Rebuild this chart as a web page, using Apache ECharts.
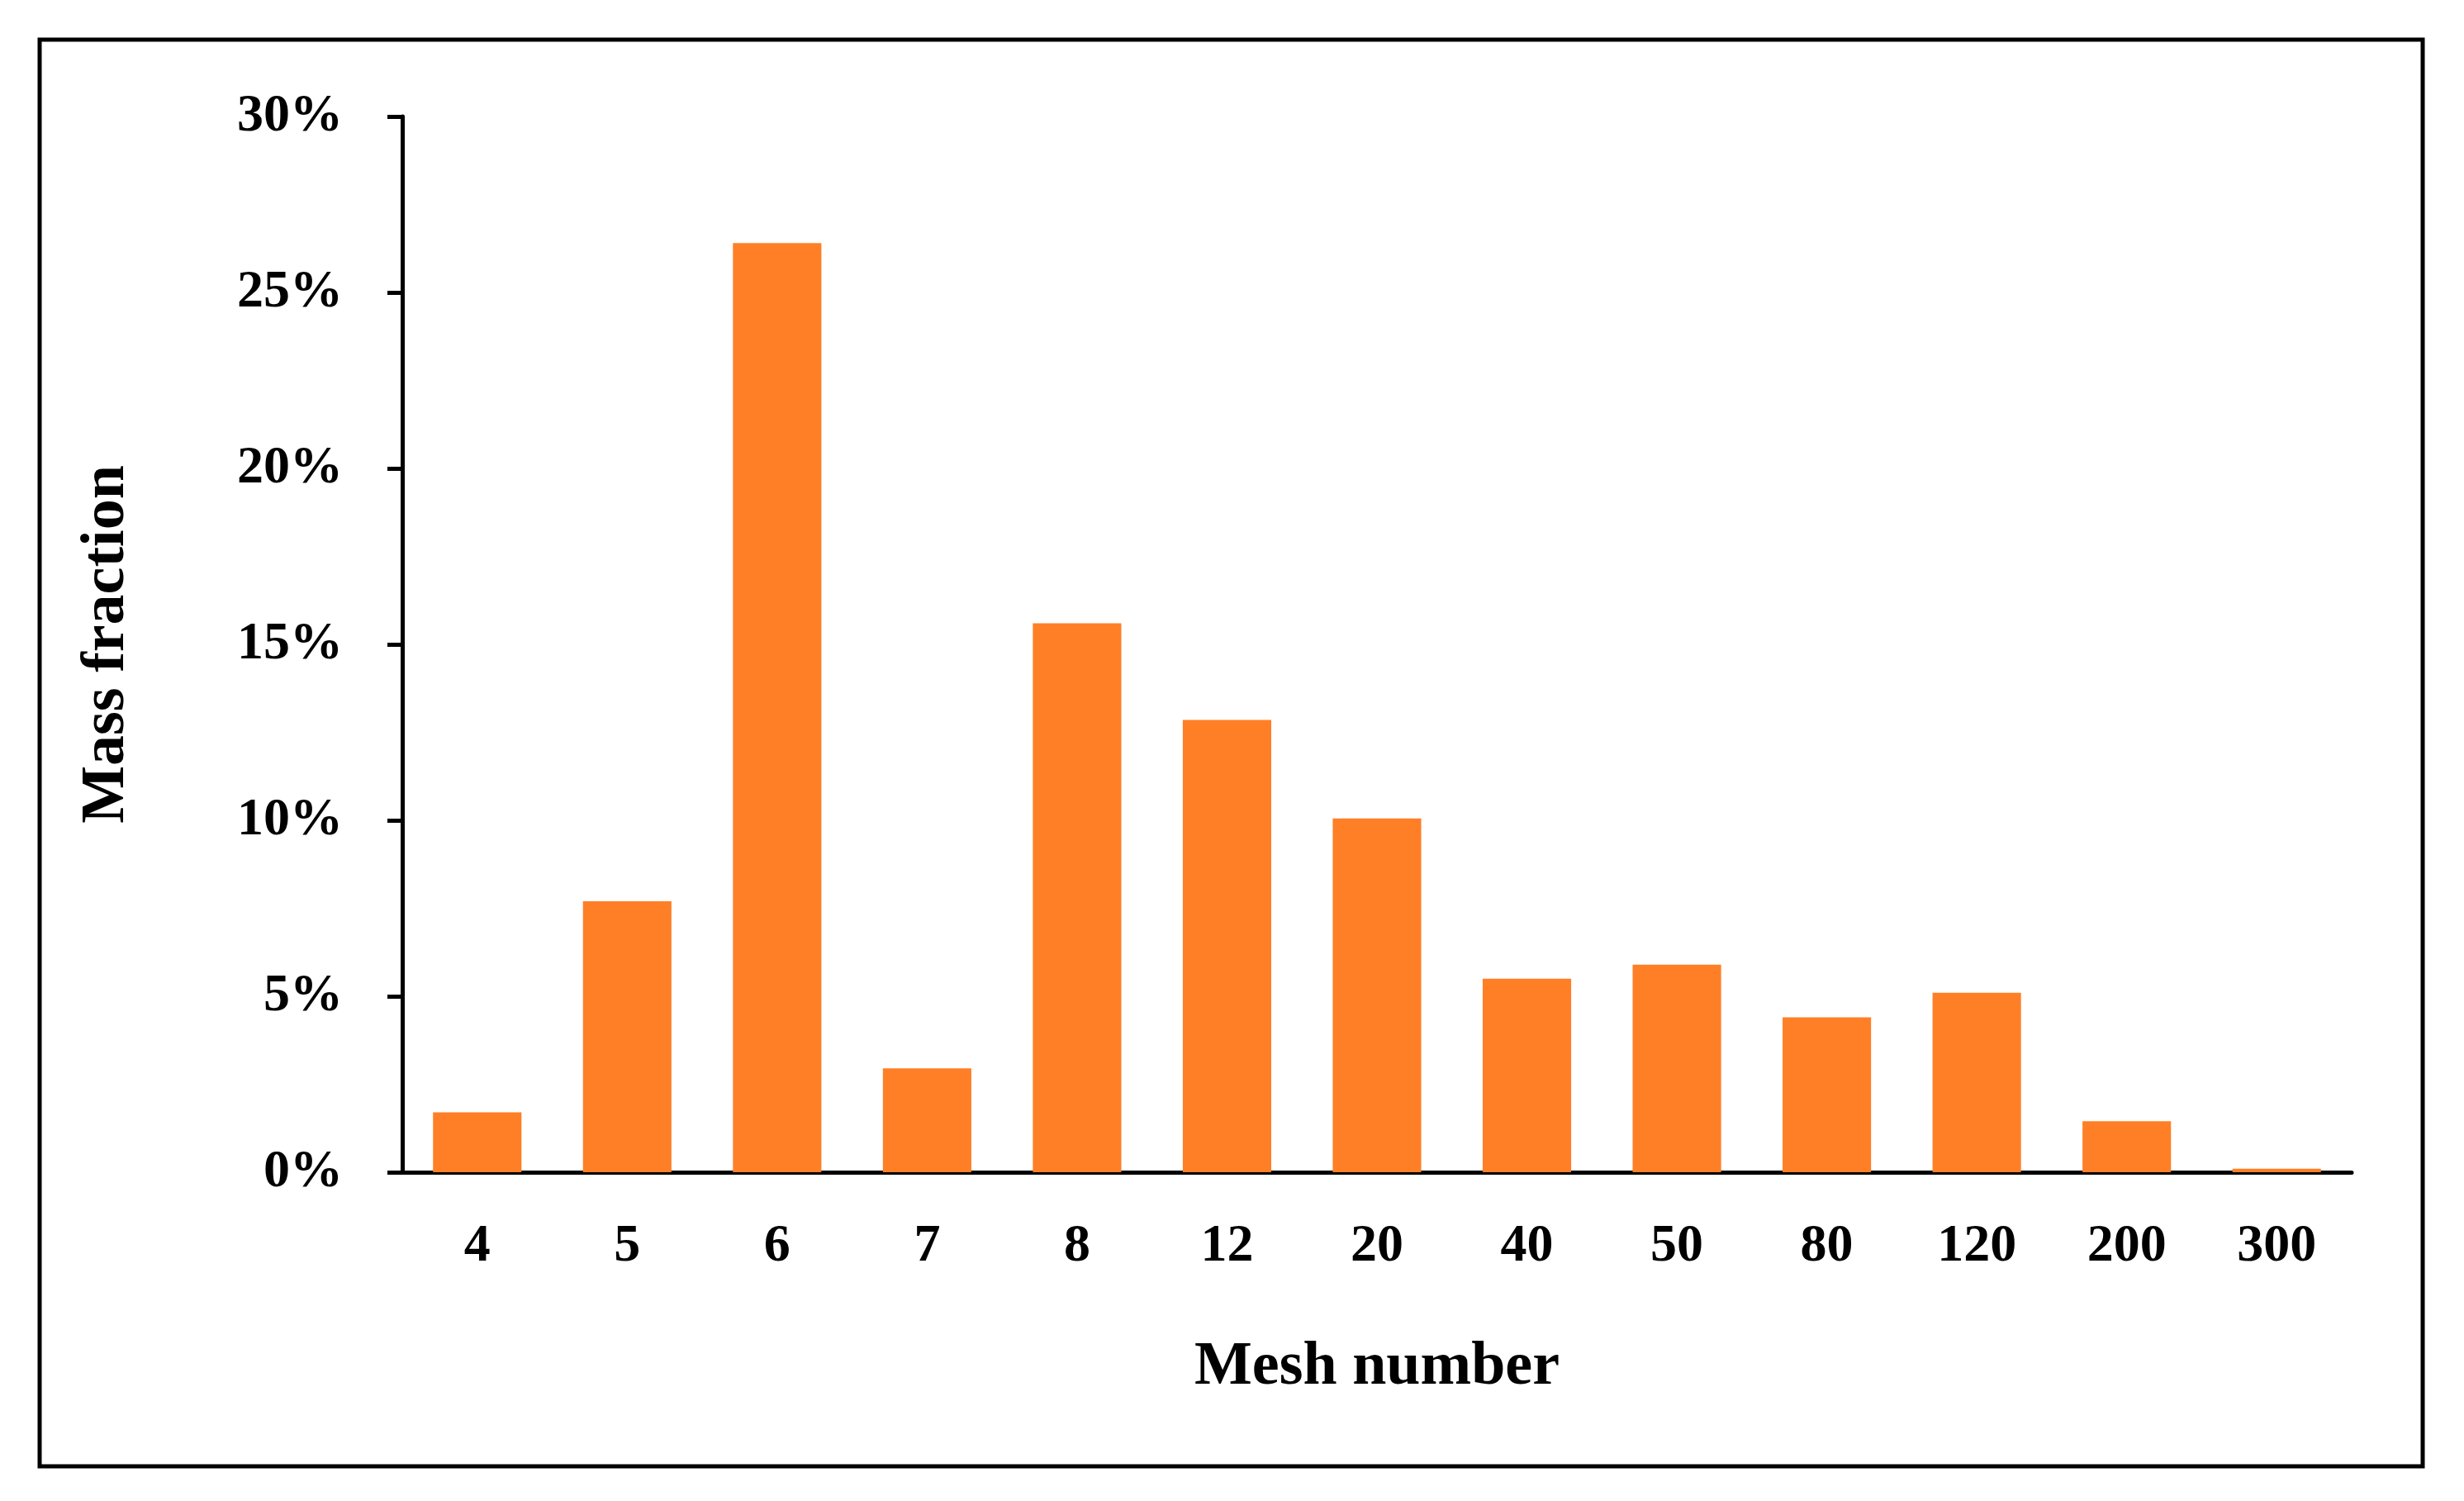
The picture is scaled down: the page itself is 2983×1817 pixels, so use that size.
<!DOCTYPE html>
<html>
<head>
<meta charset="UTF-8">
<script src="https://cdn.jsdelivr.net/npm/echarts@6/dist/echarts.min.js"></script>
<style>html,body{margin:0;background:#fff}#chart{width:2983px;height:1817px}</style>
</head>
<body>
<div id="chart"></div>
<script>
    // 筛孔目数与质量分数
    var meshNumbers = ['4', '5', '6', '7', '8', '12', '20', '40', '50', '80', '120', '200', '300'];
    var massFraction = [1.7, 7.7, 26.4, 2.95, 15.6, 12.85, 10.05, 5.5, 5.9, 4.4, 5.1, 1.45, 0.1];
    var yTicks = [0, 5, 10, 15, 20, 25, 30];

    var font = 'Liberation Serif, Times New Roman, serif';
    var chart = echarts.init(document.getElementById('chart'));
    chart.setOption({
        backgroundColor: '#fff',
        animation: false,
        graphic: [{
            type: 'rect',
            shape: {x: 48, y: 48, width: 2885, height: 1727},
            style: {fill: 'none', stroke: '#000', lineWidth: 5}
        }],
        grid: {left: 487, right: 136, top: 141, bottom: 398},
        xAxis: {
            type: 'category',
            data: meshNumbers,
            name: 'Mesh number',
            nameLocation: 'middle',
            nameGap: 200,
            nameTextStyle: {fontFamily: font, fontWeight: 'bold', fontSize: 74, color: '#000'},
            axisLine: {lineStyle: {color: '#000', width: 5}},
            axisTick: {show: false},
            axisLabel: {fontFamily: font, fontWeight: 'bold', fontSize: 64, color: '#000', margin: 58}
        },
        yAxis: {
            type: 'value',
            min: yTicks[0],
            max: yTicks[yTicks.length - 1],
            interval: 5,
            name: 'Mass fraction',
            nameLocation: 'middle',
            nameGap: 320,
            nameTextStyle: {fontFamily: font, fontWeight: 'bold', fontSize: 74, color: '#000'},
            axisLine: {show: true, lineStyle: {color: '#000', width: 5}},
            axisTick: {show: true, length: 18, lineStyle: {color: '#000', width: 5}},
            splitLine: {show: false},
            axisLabel: {fontFamily: font, fontWeight: 'bold', fontSize: 64, color: '#000', margin: 72,
                formatter: function (v) { return v + '%'; }}
        },
        series: [{
            type: 'bar',
            data: massFraction,
            barWidth: '59%',
            itemStyle: {color: '#FF7F27'}
        }]
    });
</script>
</body>
</html>
